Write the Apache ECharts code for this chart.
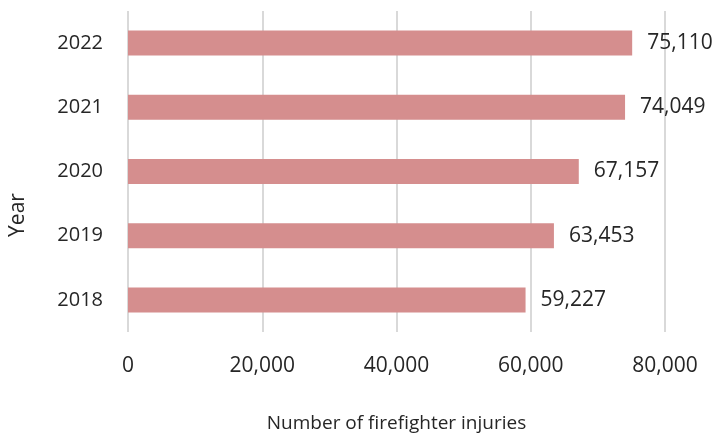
<!DOCTYPE html>
<html><head><meta charset="utf-8">
<script src="https://cdn.jsdelivr.net/npm/echarts@6/dist/echarts.min.js"></script>
<style>html,body{margin:0;padding:0;background:#fff}#c{width:715px;height:437px}</style>
</head><body><div id="c"></div>
<script>
const categories = ['2018','2019','2020','2021','2022'];
const injuries = [59227, 63453, 67157, 74049, 75110];
const xTicks = [0, 20000, 40000, 60000, 80000];
const xAxisTitle = 'Number of firefighter injuries';
const yAxisTitle = 'Year';
const FONT = '"Open Sans", "Noto Sans", sans-serif';
const fmt = v => v.toLocaleString('en-US');
const chart = echarts.init(document.getElementById('c'));
chart.setOption({
  animation: false,
  textStyle: { fontFamily: FONT },
  grid: { left: 128, right: 50, top: 11, bottom: 105, containLabel: false, outerBoundsMode: 'none' },
  graphic: [{
    type: 'text', x: 18, y: 215, rotation: Math.PI / 2,
    style: { text: yAxisTitle, fontSize: 21, fill: '#262626', fontFamily: FONT, align: 'center', verticalAlign: 'middle' }
  }],
  xAxis: {
    type: 'value', min: xTicks[0], max: xTicks[xTicks.length-1], interval: 20000,
    name: xAxisTitle, nameLocation: 'middle', nameGap: 82,
    nameTextStyle: { fontSize: 19, color: '#262626', fontFamily: FONT },
    axisLine: { show: false }, axisTick: { show: false },
    axisLabel: { fontSize: 21, color: '#262626', margin: 24, formatter: v => fmt(v), fontFamily: FONT },
    splitLine: { show: true, lineStyle: { color: '#d9d9d9', width: 2 } }
  },
  yAxis: {
    type: 'category', data: categories,
    axisLine: { show: false }, axisTick: { show: false },
    axisLabel: { fontSize: 20, color: '#262626', margin: 25, fontFamily: FONT }
  },
  series: [{
    type: 'bar', data: injuries, barWidth: 25,
    itemStyle: { color: '#d58e8e' },
    label: { show: true, position: 'right', distance: 15, fontSize: 21, color: '#262626', formatter: p => fmt(p.value), fontFamily: FONT }
  }]
});
</script></body></html>
